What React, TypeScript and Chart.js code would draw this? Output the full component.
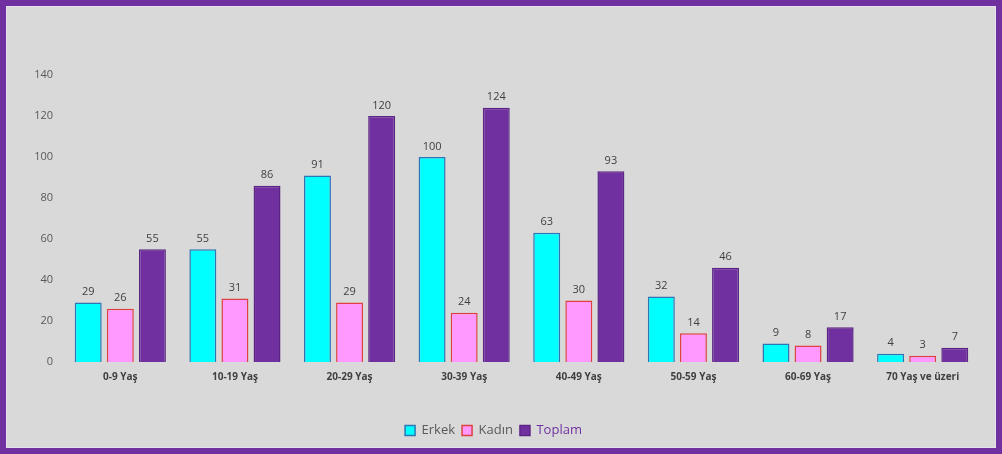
import React, { useEffect, useRef } from "react";
import { Chart, registerables } from "chart.js";

Chart.register(...registerables);

const categories = ["0-9 Yaş", "10-19 Yaş", "20-29 Yaş", "30-39 Yaş", "40-49 Yaş", "50-59 Yaş", "60-69 Yaş", "70 Yaş ve üzeri"];
const erkek = [29, 55, 91, 100, 63, 32, 9, 4];
const kadin = [26, 31, 29, 24, 30, 14, 8, 3];
const toplam = [55, 86, 120, 124, 93, 46, 17, 7];
const seriesNames = ["Erkek", "Kadın", "Toplam"];
const legendTextColors = ["#595959", "#595959", "#7030A0"];

const FONT = "'Open Sans', 'Noto Sans', sans-serif";

const valueLabels = {
  id: "valueLabels",
  afterDatasetsDraw(chart: any) {
    const ctx = chart.ctx;
    ctx.save();
    ctx.font = `11px ${FONT}`;
    ctx.fillStyle = "#404040";
    ctx.textAlign = "center";
    ctx.textBaseline = "bottom";
    chart.data.datasets.forEach((ds: any, i: number) => {
      const meta = chart.getDatasetMeta(i);
      meta.data.forEach((bar: any, j: number) => {
        ctx.fillText(String(ds.data[j]), bar.x, bar.y - 5);
      });
    });
    ctx.restore();
  },
};

export default function App() {
  const ref = useRef<HTMLCanvasElement>(null);
  useEffect(() => {
    document.body.style.margin = "0";
    const chart = new Chart(ref.current!, {
      type: "bar",
      data: {
        labels: categories,
        datasets: [
          { label: seriesNames[0], data: erkek, backgroundColor: "#00FFFF", borderColor: "#2E75B6", borderWidth: 1.5 },
          { label: seriesNames[1], data: kadin, backgroundColor: "#FF99FF", borderColor: "#E0403F", borderWidth: 1.5 },
          { label: seriesNames[2], data: toplam, backgroundColor: "#7030A0", borderColor: "#5B2585", borderWidth: 1.5 },
        ],
      },
      options: {
        animation: false,
        responsive: false,
        maintainAspectRatio: false,
        datasets: { bar: { categoryPercentage: 0.84, barPercentage: 0.84 } },
        layout: { padding: { left: 0, right: 15, top: 68, bottom: 0 } },
        scales: {
          x: {
            grid: { display: false, drawTicks: false },
            border: { display: false },
            ticks: { color: "#404040", font: { family: FONT, size: 10, weight: "bold" }, padding: 9, maxRotation: 0 },
            afterFit(scale: any) {
              scale.height = 55;
            },
          },
          y: {
            min: 0,
            max: 140,
            grid: { display: false, drawTicks: false },
            border: { display: false },
            ticks: { stepSize: 20, color: "#595959", font: { family: FONT, size: 11 }, padding: 10 },
            afterFit(scale: any) {
              scale.width = 56;
            },
          },
        },
        plugins: {
          tooltip: { enabled: false },
          legend: {
            position: "bottom",
            labels: {
              boxWidth: 10,
              boxHeight: 10,
              padding: 7,
              font: { family: FONT, size: 13 },
              generateLabels(chart: any) {
                return chart.data.datasets.map((ds: any, i: number) => ({
                  text: ds.label,
                  fillStyle: ds.backgroundColor,
                  strokeStyle: ds.borderColor,
                  lineWidth: 1.5,
                  fontColor: legendTextColors[i],
                  datasetIndex: i,
                  hidden: false,
                }));
              },
            },
          },
        },
      },
      plugins: [valueLabels],
    });
    return () => chart.destroy();
  }, []);

  return (
    <div style={{ position: "absolute", left: 0, top: 0, width: 1002, height: 454, boxSizing: "border-box", background: "#7030A0", padding: 6 }}>
      <div style={{ width: 990, height: 442, background: "#D9D9D9", boxSizing: "border-box", border: "1px solid #E6E0EC", position: "relative" }}>
        <canvas ref={ref} width={988} height={440} style={{ display: "block" }} />
      </div>
    </div>
  );
}
